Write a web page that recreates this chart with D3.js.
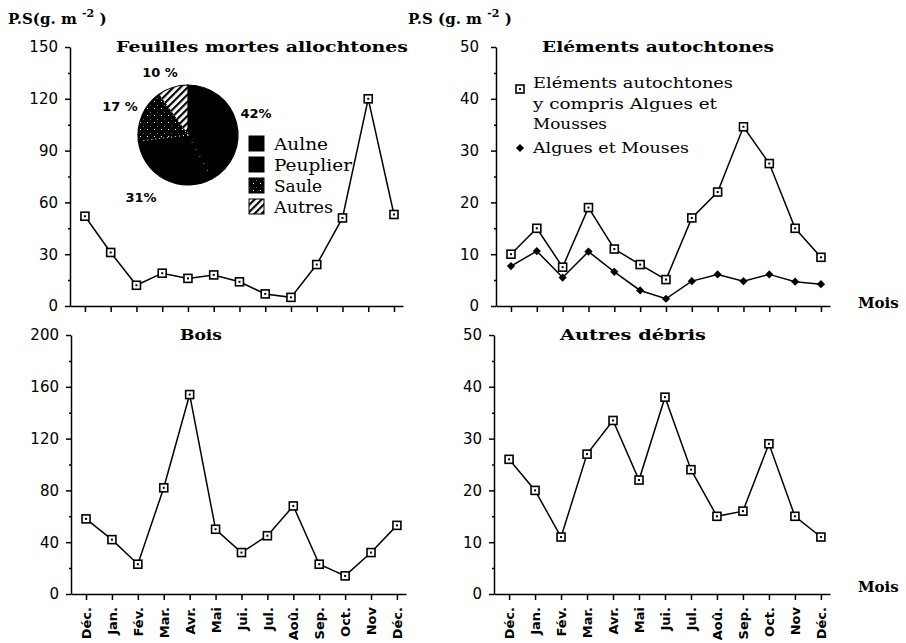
<!DOCTYPE html>
<html>
<head>
<meta charset="utf-8">
<script src="https://cdn.jsdelivr.net/npm/d3@7"></script>
<style>
  body { margin: 0; background: #fff; }
  #graph { width: 906px; height: 643px; }
</style>
</head>
<body>
<div id="graph"></div>
<script>
// months on the x axis (Dec to Dec)
const months = ["Déc.", "Jan.", "Fév.", "Mar.", "Avr.", "Mai", "Jui.", "Jul.", "Aoû.", "Sep.", "Oct.", "Nov", "Déc."];

// P.S (g.m-2) per month
const feuillesMortes = [52, 31, 12, 19, 16, 18, 14, 7, 5, 24, 51, 120, 53];
const elementsAutochtones = [10, 15, 7.5, 19, 11, 8, 5.1, 17, 22, 34.6, 27.5, 15, 9.4];
const alguesMousses = [7.7, 10.6, 5.5, 10.5, 6.6, 3, 1.4, 4.8, 6.1, 4.8, 6.1, 4.7, 4.2];
const bois = [58, 42, 23, 82, 154, 50, 32, 45, 68, 23, 14, 32, 53];
const autresDebris = [26, 20, 11, 27, 33.5, 22, 38, 24, 15, 16, 29, 15, 11];

// pie : leaf composition
const pieNames = ["Aulne", "Peuplier", "Saule", "Autres"];
const pieValues = [42, 31, 17, 10];
const pieTexts = ["42%", "31%", "17 %", "10 %"];

// y tick labels
const ticksFeuilles = [0, 30, 60, 90, 120, 150];
const ticksCinquante = [0, 10, 20, 30, 40, 50];
const ticksBois = [0, 40, 80, 120, 160, 200];

const svg = d3
  .select("#graph")
  .append("svg")
  .attr("width", 906)
  .attr("height", 643);

// patterns for the pie (hatch, dotted)
let defs = svg.append("defs");
let hatch = defs
  .append("pattern")
  .attr("id", "hatch")
  .attr("patternUnits", "userSpaceOnUse")
  .attr("width", 5)
  .attr("height", 5)
  .attr("patternTransform", "rotate(45)");
hatch.append("rect").attr("width", 5).attr("height", 5).attr("fill", "#fff");
hatch.append("rect").attr("width", 2.2).attr("height", 5).attr("fill", "#000");

let dots = defs
  .append("pattern")
  .attr("id", "dots")
  .attr("patternUnits", "userSpaceOnUse")
  .attr("width", 7)
  .attr("height", 7);
dots.append("rect").attr("width", 7).attr("height", 7).attr("fill", "#000");
dots.append("rect").attr("x", 1).attr("y", 1).attr("width", 1).attr("height", 1).attr("fill", "#fff");
dots.append("rect").attr("x", 4).attr("y", 5).attr("width", 1).attr("height", 1).attr("fill", "#666");

const pieFill = ["#000", "#000", "url(#dots)", "url(#hatch)"];

//one panel: axes + line(s)
function drawPanel(p) {
  let x = d3.scaleLinear().domain([-0.58, 12.35]).range([p.left, p.right]);
  let y = d3.scaleLinear().domain([0, p.yMax]).range([p.bottom, p.top]);

  let g = svg.append("g");

  // minor y ticks (half steps)
  let step = p.yTicks[1] - p.yTicks[0];
  g.append("g")
    .attr("transform", "translate(" + p.left + ",0)")
    .call(
      d3.axisLeft(y)
        .tickValues(p.yTicks.slice(0, -1).map((t) => t + step / 2))
        .tickSize(2)
        .tickFormat("")
    )
    .call((a) => a.select(".domain").remove());

  let yAxis = g
    .append("g")
    .attr("transform", "translate(" + p.left + ",0)")
    .call(d3.axisLeft(y).tickValues(p.yTicks).tickSize(5).tickSizeOuter(0).tickPadding(p.pad || 7));
  yAxis.selectAll("text")
    .style("font-family", "'DejaVu Sans', sans-serif")
    .style("font-size", "15px")
    .attr("fill", "#000");

  let xAxis = g
    .append("g")
    .attr("transform", "translate(0," + p.bottom + ")")
    .call(
      d3.axisBottom(x)
        .tickValues(d3.range(months.length))
        .tickSize(6)
        .tickSizeOuter(0)
        .tickFormat((i) => (p.showMonths ? months[i] : ""))
    );
  xAxis.selectAll("text")
    .style("font-family", "'DejaVu Sans', sans-serif")
    .style("font-size", "13px")
    .style("font-weight", "bold")
    .attr("fill", "#000")
    .attr("transform", "rotate(-90)")
    .attr("text-anchor", "end")
    .attr("x", -13)
    .attr("y", 0)
    .attr("dy", "0.36em");

  g.selectAll(".domain, .tick line").attr("stroke", "#000").attr("stroke-width", 1.5);

  // title
  g.append("text")
    .attr("x", p.titleX)
    .attr("y", p.top + 5)
    .attr("text-anchor", "middle")
    .attr("textLength", p.titleW)
    .attr("lengthAdjust", "spacingAndGlyphs")
    .style("font-family", "'DejaVu Serif', serif")
    .style("font-weight", "bold")
    .style("font-size", "15px")
    .text(p.title);

  let line = d3.line().x((d, i) => x(i)).y((d) => y(d));

  p.series.forEach((s) => {
    g.append("path")
      .datum(s.values)
      .attr("d", line)
      .attr("fill", "none")
      .attr("stroke", "#000")
      .attr("stroke-width", 1.5);
    drawMarkers(g, s.values.map((v, i) => [x(i), y(v)]), s.marker);
  });

  if (p.moisY) {
    g.append("text")
      .attr("x", 858)
      .attr("y", p.moisY)
      .style("font-family", "'DejaVu Serif', serif")
      .style("font-weight", "bold")
      .style("font-size", "15px")
      .text("Mois");
  }
  return { x: x, y: y };
}

function drawMarkers(g, pts, marker) {
  if (marker === "diamond") {
    g.selectAll(null)
      .data(pts)
      .enter()
      .append("path")
      .attr("d", d3.symbol(d3.symbolSquare).size(34))
      .attr("transform", (d) => "translate(" + d[0] + "," + d[1] + ") rotate(45)")
      .attr("fill", "#000");
  } else {
    g.selectAll(null)
      .data(pts)
      .enter()
      .append("rect")
      .attr("x", (d) => d[0] - 4)
      .attr("y", (d) => d[1] - 4)
      .attr("width", 8)
      .attr("height", 8)
      .attr("fill", "#fff")
      .attr("stroke", "#000")
      .attr("stroke-width", 1.6);
    g.selectAll(null)
      .data(pts)
      .enter()
      .append("rect")
      .attr("x", (d) => d[0] - 1)
      .attr("y", (d) => d[1] - 1)
      .attr("width", 2)
      .attr("height", 2)
      .attr("fill", "#000");
  }
}

//y unit label
function unitLabel(xPos, txt) {
  let t = svg.append("text")
    .attr("x", xPos)
    .attr("y", 24)
    .style("font-family", "'DejaVu Serif', serif")
    .style("font-weight", "bold")
    .style("font-size", "15px");
  t.append("tspan").text(txt);
  t.append("tspan").attr("dy", -7).style("font-size", "11px").text("-2");
  t.append("tspan").attr("dy", 7).text(" )");
}
unitLabel(8, "P.S(g. m ");
unitLabel(408, "P.S (g. m ");

drawPanel({
  left: 70, right: 403, top: 47, bottom: 306, yMax: 150, yTicks: ticksFeuilles,
  title: "Feuilles mortes allochtones", titleX: 262, titleW: 292,
  series: [{ values: feuillesMortes, marker: "square" }]
});
drawPanel({
  left: 496, right: 830, top: 47, bottom: 306, yMax: 50, yTicks: ticksCinquante, pad: 12,
  title: "Eléments autochtones", titleX: 658, titleW: 232, moisY: 308,
  series: [
    { values: elementsAutochtones, marker: "square" },
    { values: alguesMousses, marker: "diamond" }
  ]
});
drawPanel({
  left: 71, right: 406, top: 335, bottom: 594, yMax: 200, yTicks: ticksBois, showMonths: true,
  title: "Bois", titleX: 201, titleW: 42,
  series: [{ values: bois, marker: "square" }]
});
drawPanel({
  left: 494, right: 830, top: 335, bottom: 594, yMax: 50, yTicks: ticksCinquante, showMonths: true,
  title: "Autres débris", titleX: 633, titleW: 146, moisY: 592,
  series: [{ values: autresDebris, marker: "square" }]
});

// legend of the Eléments autochtones panel
let leg = svg.append("g").style("font-family", "'DejaVu Serif', serif").style("font-size", "15px");
drawMarkers(leg, [[520, 89]], "square");
drawMarkers(leg, [[520, 148]], "diamond");
[["Eléments autochtones", 88, 200], ["y compris Algues et", 109, 184], ["Mousses", 129, 74], ["Algues et Mouses", 153, 156]]
  .forEach((l) => {
    leg.append("text")
      .attr("x", 533)
      .attr("y", l[1])
      .attr("textLength", l[2])
      .attr("lengthAdjust", "spacingAndGlyphs")
      .text(l[0]);
  });

// pie of leaf origin
let pie = d3.pie().sort(null)(pieValues);
let arc = d3.arc().innerRadius(0).outerRadius(50);
let pg = svg.append("g").attr("transform", "translate(188,135)");
pg.selectAll("path")
  .data(pie)
  .enter()
  .append("path")
  .attr("d", arc)
  .attr("fill", (d, i) => pieFill[i])
  .attr("stroke", "#000")
  .attr("stroke-width", 1.2);
// faint white dotted dividers inside the dark slices
pg.selectAll("line.div")
  .data(pie.slice(0, 3))
  .enter()
  .append("line")
  .attr("x1", 0)
  .attr("y1", 0)
  .attr("x2", (d) => 46 * Math.sin(d.endAngle))
  .attr("y2", (d) => -46 * Math.cos(d.endAngle))
  .attr("stroke", "#fff")
  .attr("stroke-width", (d, i) => (i === 0 ? 0.6 : 1))
  .attr("stroke-dasharray", (d, i) => (i === 0 ? "1,7" : "1,3"));

const pctPos = [[256, 118], [141, 202], [120, 111], [160, 77]];
svg.selectAll("text.pct")
  .data(pieTexts)
  .enter()
  .append("text")
  .attr("class", "pct")
  .attr("x", (d, i) => pctPos[i][0])
  .attr("y", (d, i) => pctPos[i][1])
  .attr("text-anchor", "middle")
  .style("font-family", "'DejaVu Sans', sans-serif")
  .style("font-weight", "bold")
  .style("font-size", "13px")
  .text((d) => d);

const pieNameW = [54, 78, 48, 59];
let pl = svg.append("g");
pl.selectAll("rect")
  .data(pieNames)
  .enter()
  .append("rect")
  .attr("x", 249)
  .attr("y", (d, i) => 136 + i * 21)
  .attr("width", 15)
  .attr("height", 15)
  .attr("fill", (d, i) => pieFill[i])
  .attr("stroke", "#000")
  .attr("stroke-width", 1);
pl.selectAll("text")
  .data(pieNames)
  .enter()
  .append("text")
  .attr("x", 274)
  .attr("y", (d, i) => 150 + i * 21)
  .attr("textLength", (d, i) => pieNameW[i])
  .attr("lengthAdjust", "spacingAndGlyphs")
  .style("font-family", "'DejaVu Serif', serif")
  .style("font-size", "16px")
  .text((d) => d);
</script>
</body>
</html>
